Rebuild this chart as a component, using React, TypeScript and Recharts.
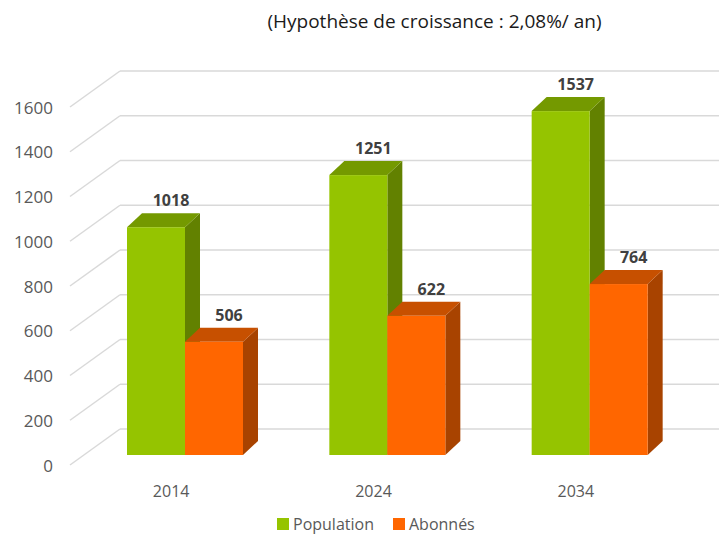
import { BarChart, Bar, XAxis, YAxis, CartesianGrid, LabelList } from 'recharts';

const years = ['2014', '2024', '2034'];
const population = [1018, 1251, 1537];
const abonnes = [506, 622, 764];
const yTicks = [0, 200, 400, 600, 800, 1000, 1200, 1400, 1600];

const data = years.map((year, i) => ({ year, population: population[i], abonnes: abonnes[i] }));

// depth of the 3D boxes and of the floor/back wall
const DX = 15;
const DY = 14;
const FONT = '"Open Sans", sans-serif';

function shade(hex: string, k: number) {
  const n = parseInt(hex.slice(1), 16);
  const r = Math.round(((n >> 16) & 255) * k);
  const g = Math.round(((n >> 8) & 255) * k);
  const b = Math.round((n & 255) * k);
  return `rgb(${r},${g},${b})`;
}

function Box(props: any) {
  const { x, y, width: w, height: h, fill } = props;
  if (h == null || w == null) return null;
  return (
    <g>
      <polygon
        points={`${x + w},${y} ${x + w + DX},${y - DY} ${x + w + DX},${y + h - DY} ${x + w},${y + h}`}
        fill={shade(fill, 0.66)}
      />
      <polygon
        points={`${x},${y} ${x + w},${y} ${x + w + DX},${y - DY} ${x + DX},${y - DY}`}
        fill={shade(fill, 0.78)}
      />
      <rect x={x} y={y} width={w} height={h} fill={fill} />
    </g>
  );
}

function BoxLabel(props: any) {
  const { x, y, width, value } = props;
  return (
    <text
      x={x + width / 2 + DX}
      y={y - 27}
      textAnchor="middle"
      dominantBaseline="central"
      fontFamily={FONT}
      fontWeight="bold"
      fontSize={16}
      fill="#404040"
    >
      {value}
    </text>
  );
}

function GridLine(props: any) {
  const { y1 } = props;
  // front edge of the floor sits 10px lower / 14px left of the bar plane
  const fx = 70;
  const fy = y1 + 10;
  const bx = 120;
  const by = y1 - 26;
  return (
    <g>
      <line x1={fx} y1={fy} x2={bx} y2={by} stroke="#d9d9d9" strokeWidth={1.5} />
      <line x1={bx} y1={by} x2={719} y2={by} stroke="#d9d9d9" strokeWidth={1.5} />
    </g>
  );
}

function YTick(props: any) {
  const { y, payload } = props;
  return (
    <text x={53} y={y + 10} textAnchor="end" dominantBaseline="central" fontFamily={FONT} fontSize={17} fill="#595959">
      {payload.value}
    </text>
  );
}

function XTick(props: any) {
  const { x, payload } = props;
  return (
    <text x={x - 14} y={491} textAnchor="middle" dominantBaseline="central" fontFamily={FONT} fontSize={16} fill="#595959">
      {payload.value}
    </text>
  );
}

export default function App() {
  return (
    <div style={{ position: 'absolute', left: 0, top: 0, width: 719, height: 537, background: '#fff', overflow: 'hidden' }}>
      <div
        style={{
          position: 'absolute',
          left: 0,
          width: 869,
          top: 8,
          textAlign: 'center',
          fontFamily: FONT,
          fontSize: 19,
          color: '#1a1a1a',
        }}
      >
        (Hypothèse de croissance : 2,08%/ an)
      </div>
      <BarChart
        width={719}
        height={537}
        data={data}
        margin={{ top: 97, right: 28, left: 0, bottom: 52 }}
        barCategoryGap={43}
        barGap={0}
      >
        <CartesianGrid vertical={false} horizontal={(p: any) => <GridLine key={p.key ?? p.index} {...p} />} />
        <YAxis
          width={84}
          domain={[0, 1600]}
          ticks={yTicks}
          interval={0}
          axisLine={false}
          tickLine={false}
          tick={<YTick />}
        />
        <XAxis dataKey="year" height={30} axisLine={false} tickLine={false} tick={<XTick />} />
        <Bar dataKey="population" name="Population" fill="#95c400" shape={<Box />} isAnimationActive={false}>
          <LabelList dataKey="population" content={<BoxLabel />} />
        </Bar>
        <Bar dataKey="abonnes" name="Abonnés" fill="#ff6600" shape={<Box />} isAnimationActive={false}>
          <LabelList dataKey="abonnes" content={<BoxLabel />} />
        </Bar>
      </BarChart>
      <div
        style={{
          position: 'absolute',
          left: 277,
          top: 514,
          display: 'flex',
          alignItems: 'center',
          fontFamily: FONT,
          fontSize: 16,
          lineHeight: '20px',
          color: '#595959',
          whiteSpace: 'nowrap',
        }}
      >
        <span style={{ width: 12, height: 12, background: '#95c400', display: 'inline-block', marginRight: 4 }} />
        <span style={{ marginRight: 19 }}>Population</span>
        <span style={{ width: 12, height: 12, background: '#ff6600', display: 'inline-block', marginRight: 4 }} />
        <span>Abonnés</span>
      </div>
    </div>
  );
}
